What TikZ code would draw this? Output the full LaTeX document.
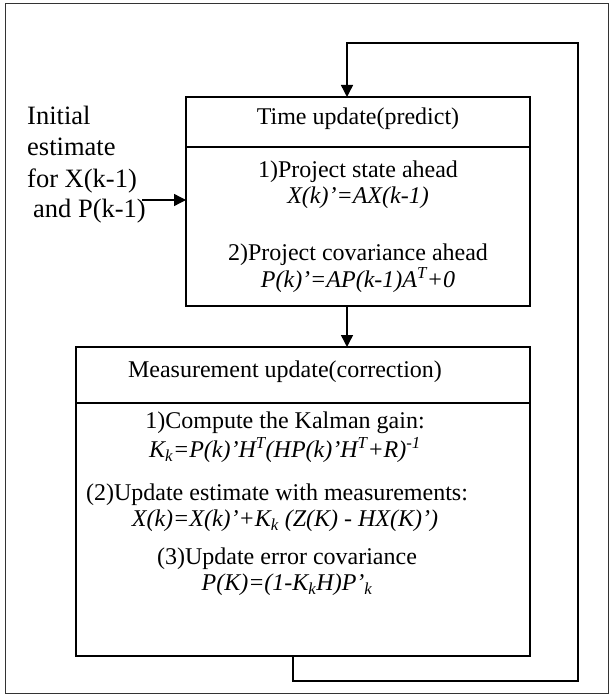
\documentclass[tikz,border=0pt]{standalone}
\usepackage{fontspec}
\setmainfont{Liberation Serif}
\usetikzlibrary{arrows.meta}
\begin{document}
\begin{tikzpicture}[x=1pt,y=-1pt,
  box/.style={draw, line width=1.6pt, inner sep=0pt, outer sep=0pt},
  conn/.style={line width=1.4pt},
  arr/.style={conn,-{Triangle[length=12pt,width=12pt]}},
  txt/.style={font=\fontsize{24}{27}\selectfont, inner sep=0pt, anchor=mid},
  side/.style={font=\fontsize{26.5}{31}\selectfont, inner sep=0pt, anchor=mid west},
]
\useasboundingbox (0,0) rectangle (612,695);
\node[draw, line width=1.2pt, black!80, minimum width=603pt, minimum height=690pt, anchor=north west, inner sep=0pt] (frame) at (5,3) {};

% Time update box
\node[box, minimum width=344pt, minimum height=50pt, anchor=north west] (tuh) at (186,97) {};
\node[box, minimum width=344pt, minimum height=159pt, anchor=north west] (tub) at (186,147) {};
\node[txt] (t0) at (358,122) {Time update(predict)};
\node[txt] (t1) at (358,175) {1)Project state ahead};
\node[txt] (t2) at (358,201) {\itshape X(k)’=AX(k-1)};
\node[txt] (t3) at (358,258) {2)Project covariance ahead};
\node[txt] (t4) at (358,285) {\itshape P(k)’=AP(k-1)A\textsuperscript{T}+0};

% Measurement update box
\node[box, minimum width=454pt, minimum height=56pt, anchor=north west] (mh) at (76,347) {};
\node[box, minimum width=454pt, minimum height=253pt, anchor=north west] (mb) at (76,403) {};
\node[txt] (m0) at (285,375) {Measurement update(correction)};
\node[txt] (m1) at (285,426) {1)Compute the Kalman gain:};
\node[txt] (m2) at (285,455) {\itshape K\textsubscript{k}=P(k)’H\textsuperscript{T}(HP(k)’H\textsuperscript{T}+R)\textsuperscript{-1}};
\node[txt] (m3) at (277,498) {(2)Update estimate with measurements:};
\node[txt] (m4) at (285,524) {\itshape X(k)=X(k)’+K\textsubscript{k} (Z(K) - HX(K)’)};
\node[txt] (m5) at (287,562) {(3)Update error covariance};
\node[txt] (m6) at (287,588) {\itshape P(K)=(1-K\textsubscript{k}H)P’\textsubscript{k}};

% side text
\node[side] (s1) at (27,122) {Initial};
\node[side] (s2) at (27,153) {estimate};
\node[side] (s3) at (27,185) {for X(k-1)};
\node[side] (s4) at (33,215) {and P(k-1)};

% connectors
\coordinate (inA) at (142,200);
\draw[arr] (inA) -- (inA -| tub.west);

\coordinate (dx) at (347,0);
\draw[arr] (tub.south -| dx) -- (mh.north -| dx);

\coordinate (f1) at (293,681);
\coordinate (f2) at (578,681);
\coordinate (f3) at (578,43);
\coordinate (f4) at (347,43);
\draw[arr] (mb.south -| f1) -- (f1) -- (f2) -- (f3) -- (f4) -- (tuh.north -| f4);
\end{tikzpicture}
\end{document}
